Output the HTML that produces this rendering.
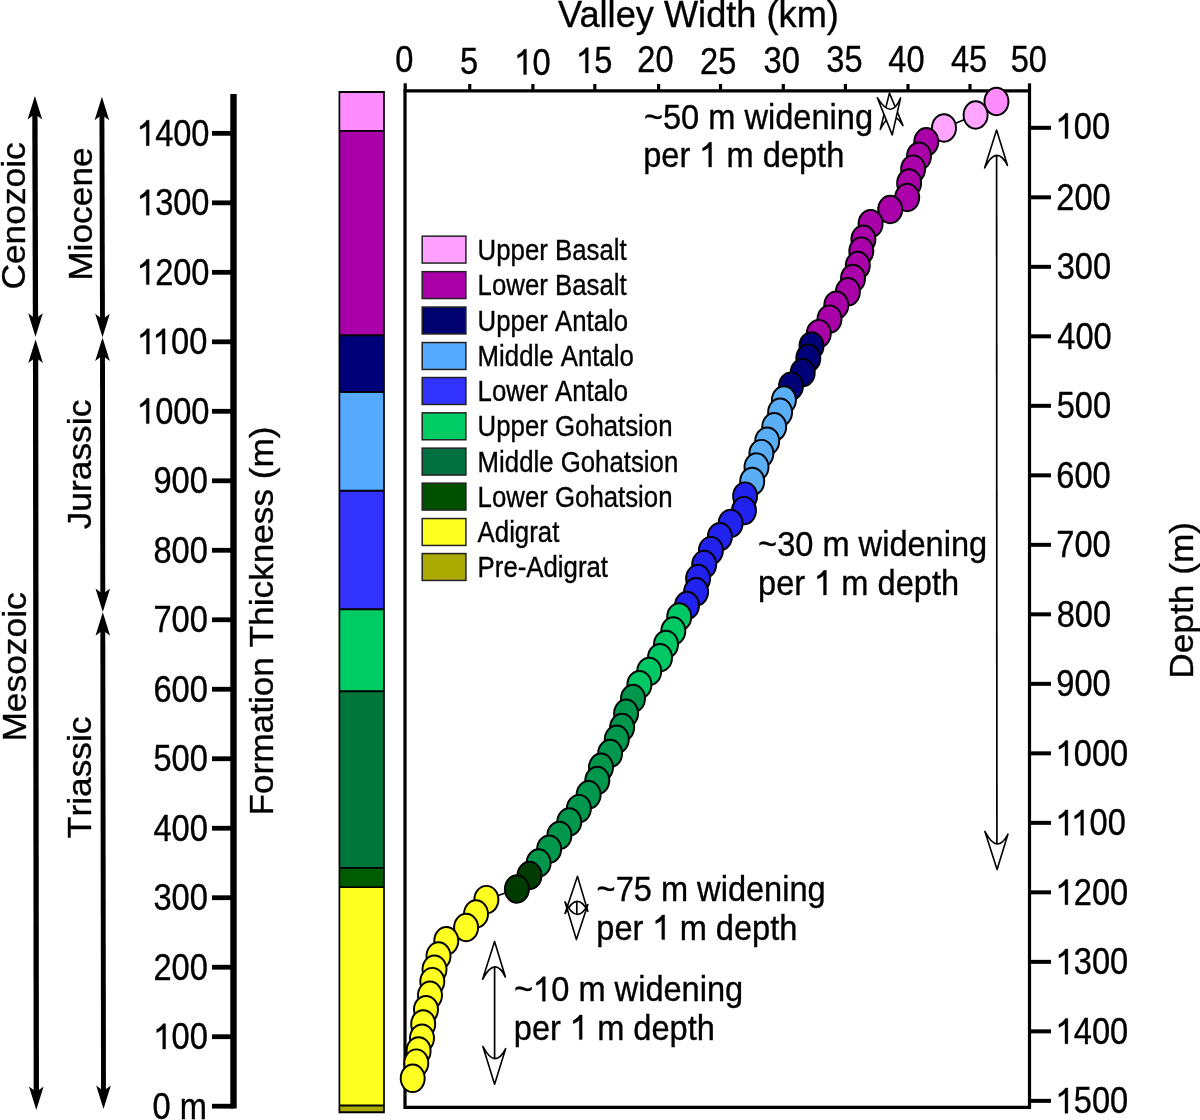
<!DOCTYPE html><html><head><meta charset="utf-8"><style>html,body{margin:0;padding:0;background:#fff;}svg{display:block;will-change:transform;font-family:"Liberation Sans",sans-serif;} text,path.o{stroke:#000;stroke-width:0.35px;vector-effect:non-scaling-stroke;}</style></head><body>
<svg width="1200" height="1120" viewBox="0 0 1200 1120" font-family='"Liberation Sans", sans-serif' style="font-kerning:none">
<rect width="1200" height="1120" fill="#fff"/>
<g fill="#000">
<g transform="translate(557.94,26.70)"><text x="0" y="0" dx="0.000 -2.687 0.000 0.000 0.000 0.000 0.000 0.000 0.000 0.000 0.000 0.000 0.000 0.000 0.000 0.000 0.000" font-size="36.2">Valley Width (km)</text></g>
</g>
<line x1="233.5" y1="94" x2="233.5" y2="1108.60" stroke="#000" stroke-width="6.4"/>
<line x1="212" y1="1106.20" x2="233.5" y2="1106.20" stroke="#000" stroke-width="4.8"/>
<line x1="212" y1="1036.71" x2="233.5" y2="1036.71" stroke="#000" stroke-width="4.8"/>
<line x1="212" y1="967.22" x2="233.5" y2="967.22" stroke="#000" stroke-width="4.8"/>
<line x1="212" y1="897.73" x2="233.5" y2="897.73" stroke="#000" stroke-width="4.8"/>
<line x1="212" y1="828.24" x2="233.5" y2="828.24" stroke="#000" stroke-width="4.8"/>
<line x1="212" y1="758.75" x2="233.5" y2="758.75" stroke="#000" stroke-width="4.8"/>
<line x1="212" y1="689.26" x2="233.5" y2="689.26" stroke="#000" stroke-width="4.8"/>
<line x1="212" y1="619.77" x2="233.5" y2="619.77" stroke="#000" stroke-width="4.8"/>
<line x1="212" y1="550.28" x2="233.5" y2="550.28" stroke="#000" stroke-width="4.8"/>
<line x1="212" y1="480.79" x2="233.5" y2="480.79" stroke="#000" stroke-width="4.8"/>
<line x1="212" y1="411.30" x2="233.5" y2="411.30" stroke="#000" stroke-width="4.8"/>
<line x1="212" y1="341.81" x2="233.5" y2="341.81" stroke="#000" stroke-width="4.8"/>
<line x1="212" y1="272.32" x2="233.5" y2="272.32" stroke="#000" stroke-width="4.8"/>
<line x1="212" y1="202.83" x2="233.5" y2="202.83" stroke="#000" stroke-width="4.8"/>
<line x1="212" y1="133.34" x2="233.5" y2="133.34" stroke="#000" stroke-width="4.8"/>
<g fill="#000">
<g transform="translate(153.46,1049.01) scale(1,1.13)"><text x="0" y="0" font-size="32.6"> 00</text><path class="o" transform="translate(0.000,0) scale(0.01592,-0.01592)" d="M763,0H583V1125C535,1080 470,1035 400,995C330,955 265,930 200,912V1080C300,1122 385,1178 455,1242C525,1306 573,1362 606,1409H763Z"/></g>
<g transform="translate(153.46,979.52) scale(1,1.13)"><text x="0" y="0" font-size="32.6">200</text></g>
<g transform="translate(153.46,910.03) scale(1,1.13)"><text x="0" y="0" font-size="32.6">300</text></g>
<g transform="translate(153.46,840.54) scale(1,1.13)"><text x="0" y="0" font-size="32.6">400</text></g>
<g transform="translate(153.46,771.05) scale(1,1.13)"><text x="0" y="0" font-size="32.6">500</text></g>
<g transform="translate(153.46,701.56) scale(1,1.13)"><text x="0" y="0" font-size="32.6">600</text></g>
<g transform="translate(153.46,632.07) scale(1,1.13)"><text x="0" y="0" font-size="32.6">700</text></g>
<g transform="translate(153.46,562.58) scale(1,1.13)"><text x="0" y="0" font-size="32.6">800</text></g>
<g transform="translate(153.46,493.09) scale(1,1.13)"><text x="0" y="0" font-size="32.6">900</text></g>
<g transform="translate(137.01,423.60) scale(1,1.13)"><text x="0" y="0" font-size="32.6"> 000</text><path class="o" transform="translate(0.000,0) scale(0.01592,-0.01592)" d="M763,0H583V1125C535,1080 470,1035 400,995C330,955 265,930 200,912V1080C300,1122 385,1178 455,1242C525,1306 573,1362 606,1409H763Z"/></g>
<g transform="translate(137.19,354.11) scale(1,1.13)"><text x="0" y="0" dx="0.000 -2.420 0.000 0.000" font-size="32.6">  00</text><path class="o" transform="translate(0.000,0) scale(0.01592,-0.01592)" d="M763,0H583V1125C535,1080 470,1035 400,995C330,955 265,930 200,912V1080C300,1122 385,1178 455,1242C525,1306 573,1362 606,1409H763Z"/><path class="o" transform="translate(15.711,0) scale(0.01592,-0.01592)" d="M763,0H583V1125C535,1080 470,1035 400,995C330,955 265,930 200,912V1080C300,1122 385,1178 455,1242C525,1306 573,1362 606,1409H763Z"/></g>
<g transform="translate(137.01,284.62) scale(1,1.13)"><text x="0" y="0" font-size="32.6"> 200</text><path class="o" transform="translate(0.000,0) scale(0.01592,-0.01592)" d="M763,0H583V1125C535,1080 470,1035 400,995C330,955 265,930 200,912V1080C300,1122 385,1178 455,1242C525,1306 573,1362 606,1409H763Z"/></g>
<g transform="translate(137.01,215.13) scale(1,1.13)"><text x="0" y="0" font-size="32.6"> 300</text><path class="o" transform="translate(0.000,0) scale(0.01592,-0.01592)" d="M763,0H583V1125C535,1080 470,1035 400,995C330,955 265,930 200,912V1080C300,1122 385,1178 455,1242C525,1306 573,1362 606,1409H763Z"/></g>
<g transform="translate(137.01,145.64) scale(1,1.13)"><text x="0" y="0" font-size="32.6"> 400</text><path class="o" transform="translate(0.000,0) scale(0.01592,-0.01592)" d="M763,0H583V1125C535,1080 470,1035 400,995C330,955 265,930 200,912V1080C300,1122 385,1178 455,1242C525,1306 573,1362 606,1409H763Z"/></g>
<g transform="translate(152.50,1118.50) scale(1,1.13)"><text x="0" y="0" font-size="32.6">0 m</text></g>
<g transform="translate(1055.72,138.50) scale(1,1.13)"><text x="0" y="0" font-size="32.6"> 00</text><path class="o" transform="translate(0.000,0) scale(0.01592,-0.01592)" d="M763,0H583V1125C535,1080 470,1035 400,995C330,955 265,930 200,912V1080C300,1122 385,1178 455,1242C525,1306 573,1362 606,1409H763Z"/></g>
<g transform="translate(1056.37,209.72) scale(1,1.13)"><text x="0" y="0" font-size="32.6">200</text></g>
<g transform="translate(1056.70,279.22) scale(1,1.13)"><text x="0" y="0" font-size="32.6">300</text></g>
<g transform="translate(1057.35,348.72) scale(1,1.13)"><text x="0" y="0" font-size="32.6">400</text></g>
<g transform="translate(1056.70,418.23) scale(1,1.13)"><text x="0" y="0" font-size="32.6">500</text></g>
<g transform="translate(1056.37,487.73) scale(1,1.13)"><text x="0" y="0" font-size="32.6">600</text></g>
<g transform="translate(1056.37,557.23) scale(1,1.13)"><text x="0" y="0" font-size="32.6">700</text></g>
<g transform="translate(1056.70,626.73) scale(1,1.13)"><text x="0" y="0" font-size="32.6">800</text></g>
<g transform="translate(1056.37,696.24) scale(1,1.13)"><text x="0" y="0" font-size="32.6">900</text></g>
<g transform="translate(1055.72,765.74) scale(1,1.13)"><text x="0" y="0" font-size="32.6"> 000</text><path class="o" transform="translate(0.000,0) scale(0.01592,-0.01592)" d="M763,0H583V1125C535,1080 470,1035 400,995C330,955 265,930 200,912V1080C300,1122 385,1178 455,1242C525,1306 573,1362 606,1409H763Z"/></g>
<g transform="translate(1055.72,835.24) scale(1,1.13)"><text x="0" y="0" dx="0.000 -2.420 0.000 0.000" font-size="32.6">  00</text><path class="o" transform="translate(0.000,0) scale(0.01592,-0.01592)" d="M763,0H583V1125C535,1080 470,1035 400,995C330,955 265,930 200,912V1080C300,1122 385,1178 455,1242C525,1306 573,1362 606,1409H763Z"/><path class="o" transform="translate(15.711,0) scale(0.01592,-0.01592)" d="M763,0H583V1125C535,1080 470,1035 400,995C330,955 265,930 200,912V1080C300,1122 385,1178 455,1242C525,1306 573,1362 606,1409H763Z"/></g>
<g transform="translate(1055.72,904.75) scale(1,1.13)"><text x="0" y="0" font-size="32.6"> 200</text><path class="o" transform="translate(0.000,0) scale(0.01592,-0.01592)" d="M763,0H583V1125C535,1080 470,1035 400,995C330,955 265,930 200,912V1080C300,1122 385,1178 455,1242C525,1306 573,1362 606,1409H763Z"/></g>
<g transform="translate(1055.72,974.25) scale(1,1.13)"><text x="0" y="0" font-size="32.6"> 300</text><path class="o" transform="translate(0.000,0) scale(0.01592,-0.01592)" d="M763,0H583V1125C535,1080 470,1035 400,995C330,955 265,930 200,912V1080C300,1122 385,1178 455,1242C525,1306 573,1362 606,1409H763Z"/></g>
<g transform="translate(1055.72,1043.75) scale(1,1.13)"><text x="0" y="0" font-size="32.6"> 400</text><path class="o" transform="translate(0.000,0) scale(0.01592,-0.01592)" d="M763,0H583V1125C535,1080 470,1035 400,995C330,955 265,930 200,912V1080C300,1122 385,1178 455,1242C525,1306 573,1362 606,1409H763Z"/></g>
<g transform="translate(1055.72,1113.26) scale(1,1.13)"><text x="0" y="0" font-size="32.6"> 500</text><path class="o" transform="translate(0.000,0) scale(0.01592,-0.01592)" d="M763,0H583V1125C535,1080 470,1035 400,995C330,955 265,930 200,912V1080C300,1122 385,1178 455,1242C525,1306 573,1362 606,1409H763Z"/></g>
<g transform="translate(395.20,72.30) scale(1,1.13)"><text x="0" y="0" font-size="32.6">0</text></g>
<g transform="translate(460.10,74.20) scale(1,1.13)"><text x="0" y="0" font-size="32.6">5</text></g>
<g transform="translate(514.32,74.50) scale(1,1.13)"><text x="0" y="0" font-size="32.6"> 0</text><path class="o" transform="translate(0.000,0) scale(0.01592,-0.01592)" d="M763,0H583V1125C535,1080 470,1035 400,995C330,955 265,930 200,912V1080C300,1122 385,1178 455,1242C525,1306 573,1362 606,1409H763Z"/></g>
<g transform="translate(576.12,73.00) scale(1,1.13)"><text x="0" y="0" font-size="32.6"> 5</text><path class="o" transform="translate(0.000,0) scale(0.01592,-0.01592)" d="M763,0H583V1125C535,1080 470,1035 400,995C330,955 265,930 200,912V1080C300,1122 385,1178 455,1242C525,1306 573,1362 606,1409H763Z"/></g>
<g transform="translate(637.37,72.00) scale(1,1.13)"><text x="0" y="0" font-size="32.6">20</text></g>
<g transform="translate(700.07,73.60) scale(1,1.13)"><text x="0" y="0" font-size="32.6">25</text></g>
<g transform="translate(763.60,73.10) scale(1,1.13)"><text x="0" y="0" font-size="32.6">30</text></g>
<g transform="translate(826.30,72.10) scale(1,1.13)"><text x="0" y="0" font-size="32.6">35</text></g>
<g transform="translate(888.35,72.00) scale(1,1.13)"><text x="0" y="0" font-size="32.6">40</text></g>
<g transform="translate(950.95,72.00) scale(1,1.13)"><text x="0" y="0" font-size="32.6">45</text></g>
<g transform="translate(1010.70,72.10) scale(1,1.13)"><text x="0" y="0" font-size="32.6">50</text></g>
<text transform="translate(272.80,815.52) scale(1,1.035) rotate(-90)" font-size="34.0">Formation Thickness (m)</text>
<text transform="translate(1192.50,678.72) scale(1,1.05) rotate(-90)" font-size="33.6">Depth (m)</text>
<text transform="translate(25.30,289.57) scale(1,1.04) rotate(-90)" font-size="34.0">Cenozoic</text>
<text transform="translate(26.20,741.58) scale(1,1.04) rotate(-90)" font-size="34.0">Mesozoic</text>
<text transform="translate(91.80,280.83) scale(1,1.04) rotate(-90)" font-size="34.0">Miocene</text>
<text transform="translate(90.80,529.31) scale(1,1.04) rotate(-90)" font-size="34.0">Jurassic</text>
<text transform="translate(90.50,838.21) scale(1,1.04) rotate(-90)" font-size="34.0">Triassic</text>
<g transform="translate(643.90,128.50) scale(1,1.1)"><text x="0" y="0" font-size="32.6">~50 m widening</text></g>
<g transform="translate(643.24,167.00) scale(1,1.1)"><text x="0" y="0" font-size="32.6">per   m depth</text><path class="o" transform="translate(56.175,0) scale(0.01592,-0.01592)" d="M763,0H583V1125C535,1080 470,1035 400,995C330,955 265,930 200,912V1080C300,1122 385,1178 455,1242C525,1306 573,1362 606,1409H763Z"/></g>
<g transform="translate(758.10,556.40) scale(1,1.1)"><text x="0" y="0" font-size="32.6">~30 m widening</text></g>
<g transform="translate(758.04,595.00) scale(1,1.1)"><text x="0" y="0" font-size="32.6">per   m depth</text><path class="o" transform="translate(56.175,0) scale(0.01592,-0.01592)" d="M763,0H583V1125C535,1080 470,1035 400,995C330,955 265,930 200,912V1080C300,1122 385,1178 455,1242C525,1306 573,1362 606,1409H763Z"/></g>
<g transform="translate(596.60,901.30) scale(1,1.1)"><text x="0" y="0" font-size="32.6">~75 m widening</text></g>
<g transform="translate(596.34,939.60) scale(1,1.1)"><text x="0" y="0" font-size="32.6">per   m depth</text><path class="o" transform="translate(56.175,0) scale(0.01592,-0.01592)" d="M763,0H583V1125C535,1080 470,1035 400,995C330,955 265,930 200,912V1080C300,1122 385,1178 455,1242C525,1306 573,1362 606,1409H763Z"/></g>
<g transform="translate(514.10,1001.30) scale(1,1.1)"><text x="0" y="0" font-size="32.6">~ 0 m widening</text><path class="o" transform="translate(19.038,0) scale(0.01592,-0.01592)" d="M763,0H583V1125C535,1080 470,1035 400,995C330,955 265,930 200,912V1080C300,1122 385,1178 455,1242C525,1306 573,1362 606,1409H763Z"/></g>
<g transform="translate(513.84,1039.60) scale(1,1.1)"><text x="0" y="0" font-size="32.6">per   m depth</text><path class="o" transform="translate(56.175,0) scale(0.01592,-0.01592)" d="M763,0H583V1125C535,1080 470,1035 400,995C330,955 265,930 200,912V1080C300,1122 385,1178 455,1242C525,1306 573,1362 606,1409H763Z"/></g>
</g>
<line x1="34.9" y1="106.0" x2="35.5" y2="326.7" stroke="#000" stroke-width="5.3"/>
<path d="M34.90,96.00 L27.60,119.50 L34.90,114.00 L42.20,119.50 Z" fill="#000"/>
<path d="M35.50,336.70 L28.20,313.20 L35.50,318.70 L42.80,313.20 Z" fill="#000"/>
<line x1="35.6" y1="349.5" x2="36.3" y2="1100.0" stroke="#000" stroke-width="5.3"/>
<path d="M35.60,339.50 L28.30,363.00 L35.60,357.50 L42.90,363.00 Z" fill="#000"/>
<path d="M36.30,1110.00 L29.00,1086.50 L36.30,1092.00 L43.60,1086.50 Z" fill="#000"/>
<line x1="101.9" y1="106.7" x2="102.5" y2="327.2" stroke="#000" stroke-width="4.9"/>
<path d="M101.90,96.70 L94.60,120.20 L101.90,114.70 L109.20,120.20 Z" fill="#000"/>
<path d="M102.50,337.20 L95.20,313.70 L102.50,319.20 L109.80,313.70 Z" fill="#000"/>
<line x1="102.5" y1="347.6" x2="102.8" y2="602.1" stroke="#000" stroke-width="4.9"/>
<path d="M102.50,337.60 L95.20,361.10 L102.50,355.60 L109.80,361.10 Z" fill="#000"/>
<path d="M102.80,612.10 L95.50,588.60 L102.80,594.10 L110.10,588.60 Z" fill="#000"/>
<line x1="102.8" y1="622.3" x2="103.5" y2="1099.0" stroke="#000" stroke-width="4.9"/>
<path d="M102.80,612.30 L95.50,635.80 L102.80,630.30 L110.10,635.80 Z" fill="#000"/>
<path d="M103.50,1109.00 L96.20,1085.50 L103.50,1091.00 L110.80,1085.50 Z" fill="#000"/>
<rect x="339.4" y="92.00" width="44.60" height="38.90" fill="#FF8CFF"/>
<rect x="339.4" y="130.90" width="44.60" height="204.30" fill="#AA00AA"/>
<rect x="339.4" y="335.20" width="44.60" height="56.90" fill="#000078"/>
<rect x="339.4" y="392.10" width="44.60" height="98.70" fill="#55AAFF"/>
<rect x="339.4" y="490.80" width="44.60" height="118.50" fill="#3333FF"/>
<rect x="339.4" y="609.30" width="44.60" height="81.90" fill="#00CC66"/>
<rect x="339.4" y="691.20" width="44.60" height="176.70" fill="#00763C"/>
<rect x="339.4" y="867.90" width="44.60" height="19.20" fill="#005C00"/>
<rect x="339.4" y="887.10" width="44.60" height="218.40" fill="#FFFF22"/>
<rect x="339.4" y="1105.50" width="44.60" height="6.70" fill="#AAAA00"/>
<line x1="339.4" y1="92.00" x2="384.0" y2="92.00" stroke="#000" stroke-width="1.9"/>
<line x1="339.4" y1="130.90" x2="384.0" y2="130.90" stroke="#000" stroke-width="1.9"/>
<line x1="339.4" y1="335.20" x2="384.0" y2="335.20" stroke="#000" stroke-width="1.9"/>
<line x1="339.4" y1="392.10" x2="384.0" y2="392.10" stroke="#000" stroke-width="1.9"/>
<line x1="339.4" y1="490.80" x2="384.0" y2="490.80" stroke="#000" stroke-width="1.9"/>
<line x1="339.4" y1="609.30" x2="384.0" y2="609.30" stroke="#000" stroke-width="1.9"/>
<line x1="339.4" y1="691.20" x2="384.0" y2="691.20" stroke="#000" stroke-width="1.9"/>
<line x1="339.4" y1="867.90" x2="384.0" y2="867.90" stroke="#000" stroke-width="1.9"/>
<line x1="339.4" y1="887.10" x2="384.0" y2="887.10" stroke="#000" stroke-width="1.9"/>
<line x1="339.4" y1="1105.50" x2="384.0" y2="1105.50" stroke="#000" stroke-width="1.9"/>
<line x1="339.4" y1="1112.20" x2="384.0" y2="1112.20" stroke="#000" stroke-width="1.9"/>
<line x1="339.4" y1="91.05" x2="339.4" y2="1113.15" stroke="#000" stroke-width="1.7"/>
<line x1="384.0" y1="91.05" x2="384.0" y2="1113.15" stroke="#000" stroke-width="1.7"/>
<rect x="422.2" y="236.15" width="43.7" height="26.9" fill="#FFA2FF" stroke="#222" stroke-width="1.5"/>
<rect x="422.2" y="271.65" width="43.7" height="26.9" fill="#AA00AA" stroke="#222" stroke-width="1.5"/>
<rect x="422.2" y="307.05" width="43.7" height="26.9" fill="#000070" stroke="#222" stroke-width="1.5"/>
<rect x="422.2" y="342.55" width="43.7" height="26.9" fill="#55AAFF" stroke="#222" stroke-width="1.5"/>
<rect x="422.2" y="377.55" width="43.7" height="26.9" fill="#3333FF" stroke="#222" stroke-width="1.5"/>
<rect x="422.2" y="412.85" width="43.7" height="26.9" fill="#00CC66" stroke="#222" stroke-width="1.5"/>
<rect x="422.2" y="448.15" width="43.7" height="26.9" fill="#007040" stroke="#222" stroke-width="1.5"/>
<rect x="422.2" y="483.15" width="43.7" height="26.9" fill="#005000" stroke="#222" stroke-width="1.5"/>
<rect x="422.2" y="518.55" width="43.7" height="26.9" fill="#FFFF22" stroke="#222" stroke-width="1.5"/>
<rect x="422.2" y="553.55" width="43.7" height="26.9" fill="#AAAA00" stroke="#222" stroke-width="1.5"/>
<g fill="#000">
<text transform="translate(477.6,259.60) scale(1,1.12)" font-size="25.8">Upper Basalt</text>
<text transform="translate(477.6,295.10) scale(1,1.12)" font-size="25.8">Lower Basalt</text>
<text transform="translate(477.6,330.50) scale(1,1.12)" font-size="25.8">Upper Antalo</text>
<text transform="translate(477.6,366.00) scale(1,1.12)" font-size="25.8">Middle Antalo</text>
<text transform="translate(477.6,401.00) scale(1,1.12)" font-size="25.8">Lower Antalo</text>
<text transform="translate(477.6,436.30) scale(1,1.12)" font-size="25.8">Upper Gohatsion</text>
<text transform="translate(477.6,471.60) scale(1,1.12)" font-size="25.8">Middle Gohatsion</text>
<text transform="translate(477.6,506.60) scale(1,1.12)" font-size="25.8">Lower Gohatsion</text>
<text transform="translate(477.6,542.00) scale(1,1.12)" font-size="25.8">Adigrat</text>
<text transform="translate(477.6,577.00) scale(1,1.12)" font-size="25.8">Pre-Adigrat</text>
</g>
<path d="M405.0,90.9 H1029.5 V1107.4 H405.0 Z" fill="none" stroke="#000" stroke-width="3.2"/>
<line x1="405.2" y1="83.3" x2="405.2" y2="90.9" stroke="#000" stroke-width="3.2"/>
<line x1="469.75" y1="84.0" x2="469.75" y2="90.9" stroke="#000" stroke-width="3.2"/>
<line x1="532.9" y1="84.0" x2="532.9" y2="90.9" stroke="#000" stroke-width="3.2"/>
<line x1="594.8" y1="84.0" x2="594.8" y2="90.9" stroke="#000" stroke-width="3.2"/>
<line x1="658.6" y1="84.0" x2="658.6" y2="90.9" stroke="#000" stroke-width="3.2"/>
<line x1="720.5" y1="84.0" x2="720.5" y2="90.9" stroke="#000" stroke-width="3.2"/>
<line x1="783.3" y1="84.0" x2="783.3" y2="90.9" stroke="#000" stroke-width="3.2"/>
<line x1="845.4" y1="84.0" x2="845.4" y2="90.9" stroke="#000" stroke-width="3.2"/>
<line x1="908.0" y1="84.0" x2="908.0" y2="90.9" stroke="#000" stroke-width="3.2"/>
<line x1="970.0" y1="84.0" x2="970.0" y2="90.9" stroke="#000" stroke-width="3.2"/>
<line x1="1029.5" y1="83.3" x2="1029.5" y2="90.9" stroke="#000" stroke-width="3.2"/>
<line x1="1029.5" y1="127.81" x2="1051" y2="127.81" stroke="#000" stroke-width="4.0"/>
<line x1="1029.5" y1="197.32" x2="1051" y2="197.32" stroke="#000" stroke-width="4.0"/>
<line x1="1029.5" y1="266.82" x2="1051" y2="266.82" stroke="#000" stroke-width="4.0"/>
<line x1="1029.5" y1="336.32" x2="1051" y2="336.32" stroke="#000" stroke-width="4.0"/>
<line x1="1029.5" y1="405.83" x2="1051" y2="405.83" stroke="#000" stroke-width="4.0"/>
<line x1="1029.5" y1="475.33" x2="1051" y2="475.33" stroke="#000" stroke-width="4.0"/>
<line x1="1029.5" y1="544.83" x2="1051" y2="544.83" stroke="#000" stroke-width="4.0"/>
<line x1="1029.5" y1="614.33" x2="1051" y2="614.33" stroke="#000" stroke-width="4.0"/>
<line x1="1029.5" y1="683.84" x2="1051" y2="683.84" stroke="#000" stroke-width="4.0"/>
<line x1="1029.5" y1="753.34" x2="1051" y2="753.34" stroke="#000" stroke-width="4.0"/>
<line x1="1029.5" y1="822.84" x2="1051" y2="822.84" stroke="#000" stroke-width="4.0"/>
<line x1="1029.5" y1="892.35" x2="1051" y2="892.35" stroke="#000" stroke-width="4.0"/>
<line x1="1029.5" y1="961.85" x2="1051" y2="961.85" stroke="#000" stroke-width="4.0"/>
<line x1="1029.5" y1="1031.35" x2="1051" y2="1031.35" stroke="#000" stroke-width="4.0"/>
<line x1="1029.5" y1="1100.86" x2="1051" y2="1100.86" stroke="#000" stroke-width="4.0"/>
<polyline fill="none" stroke="#000" stroke-width="1.6" points="996.45,101.5 975.6,115.0 944.0,127.9 926.3,141.8 919.0,156.2 913.1,169.1 909.1,183.0 907.2,197.5 890.2,209.5 870.6,223.7 863.4,239.3 861.3,251.1 857.8,265.5 853.0,278.4 847.9,291.8 836.3,305.2 829.5,319.1 818.8,333.6 811.5,345.9 808.3,358.2 802.7,372.7 791.0,386.1 783.9,400.0 780.1,412.3 774.2,426.8 767.2,441.2 761.4,453.6 756.5,467.0 752.2,481.4 745.1,496.1 744.0,510.6 730.6,523.4 719.9,536.7 710.9,550.6 704.2,564.5 698.1,578.5 696.1,591.8 687.0,605.5 679.2,616.9 673.3,631.0 666.0,644.4 660.0,657.7 649.2,671.4 639.4,684.7 633.0,698.5 626.1,713.3 622.1,727.5 616.8,739.3 610.1,753.5 601.0,767.3 597.3,780.5 588.6,794.8 578.9,808.6 569.2,822.0 559.4,835.4 549.1,849.2 538.6,863.0 529.5,875.5 516.9,889.0 486.4,899.6 476.0,914.0 466.1,927.5 446.3,940.8 438.5,956.0 434.5,969.3 432.3,981.6 430.0,995.3 426.0,1009.7 423.2,1023.9 422.0,1038.2 418.6,1050.9 416.3,1063.1 412.7,1078.3"/>
<ellipse cx="996.45" cy="101.5" rx="12.0" ry="13.75" fill="#FF8CFF" stroke="#000" stroke-width="1.95"/>
<ellipse cx="975.6" cy="115.0" rx="12.0" ry="13.75" fill="#FFA4FF" stroke="#000" stroke-width="1.95"/>
<ellipse cx="944.0" cy="127.9" rx="12.0" ry="13.75" fill="#FFA4FF" stroke="#000" stroke-width="1.95"/>
<ellipse cx="926.3" cy="141.8" rx="12.0" ry="13.75" fill="#AA00AA" stroke="#000" stroke-width="1.95"/>
<ellipse cx="919.0" cy="156.2" rx="12.0" ry="13.75" fill="#AA00AA" stroke="#000" stroke-width="1.95"/>
<ellipse cx="913.1" cy="169.1" rx="12.0" ry="13.75" fill="#AA00AA" stroke="#000" stroke-width="1.95"/>
<ellipse cx="909.1" cy="183.0" rx="12.0" ry="13.75" fill="#AA00AA" stroke="#000" stroke-width="1.95"/>
<ellipse cx="907.2" cy="197.5" rx="12.0" ry="13.75" fill="#AA00AA" stroke="#000" stroke-width="1.95"/>
<ellipse cx="890.2" cy="209.5" rx="12.0" ry="13.75" fill="#AA00AA" stroke="#000" stroke-width="1.95"/>
<ellipse cx="870.6" cy="223.7" rx="12.0" ry="13.75" fill="#AA00AA" stroke="#000" stroke-width="1.95"/>
<ellipse cx="863.4" cy="239.3" rx="12.0" ry="13.75" fill="#AA00AA" stroke="#000" stroke-width="1.95"/>
<ellipse cx="861.3" cy="251.1" rx="12.0" ry="13.75" fill="#AA00AA" stroke="#000" stroke-width="1.95"/>
<ellipse cx="857.8" cy="265.5" rx="12.0" ry="13.75" fill="#AA00AA" stroke="#000" stroke-width="1.95"/>
<ellipse cx="853.0" cy="278.4" rx="12.0" ry="13.75" fill="#AA00AA" stroke="#000" stroke-width="1.95"/>
<ellipse cx="847.9" cy="291.8" rx="12.0" ry="13.75" fill="#AA00AA" stroke="#000" stroke-width="1.95"/>
<ellipse cx="836.3" cy="305.2" rx="12.0" ry="13.75" fill="#AA00AA" stroke="#000" stroke-width="1.95"/>
<ellipse cx="829.5" cy="319.1" rx="12.0" ry="13.75" fill="#AA00AA" stroke="#000" stroke-width="1.95"/>
<ellipse cx="818.8" cy="333.6" rx="12.0" ry="13.75" fill="#AA00AA" stroke="#000" stroke-width="1.95"/>
<ellipse cx="811.5" cy="345.9" rx="12.0" ry="13.75" fill="#000078" stroke="#000" stroke-width="1.95"/>
<ellipse cx="808.3" cy="358.2" rx="12.0" ry="13.75" fill="#000078" stroke="#000" stroke-width="1.95"/>
<ellipse cx="802.7" cy="372.7" rx="12.0" ry="13.75" fill="#000078" stroke="#000" stroke-width="1.95"/>
<ellipse cx="791.0" cy="386.1" rx="12.0" ry="13.75" fill="#000078" stroke="#000" stroke-width="1.95"/>
<ellipse cx="783.9" cy="400.0" rx="12.0" ry="13.75" fill="#5AAEF5" stroke="#000" stroke-width="1.95"/>
<ellipse cx="780.1" cy="412.3" rx="12.0" ry="13.75" fill="#5AAEF5" stroke="#000" stroke-width="1.95"/>
<ellipse cx="774.2" cy="426.8" rx="12.0" ry="13.75" fill="#5AAEF5" stroke="#000" stroke-width="1.95"/>
<ellipse cx="767.2" cy="441.2" rx="12.0" ry="13.75" fill="#5AAEF5" stroke="#000" stroke-width="1.95"/>
<ellipse cx="761.4" cy="453.6" rx="12.0" ry="13.75" fill="#5AAEF5" stroke="#000" stroke-width="1.95"/>
<ellipse cx="756.5" cy="467.0" rx="12.0" ry="13.75" fill="#5AAEF5" stroke="#000" stroke-width="1.95"/>
<ellipse cx="752.2" cy="481.4" rx="12.0" ry="13.75" fill="#5AAEF5" stroke="#000" stroke-width="1.95"/>
<ellipse cx="745.1" cy="496.1" rx="12.0" ry="13.75" fill="#2222EE" stroke="#000" stroke-width="1.95"/>
<ellipse cx="744.0" cy="510.6" rx="12.0" ry="13.75" fill="#2222EE" stroke="#000" stroke-width="1.95"/>
<ellipse cx="730.6" cy="523.4" rx="12.0" ry="13.75" fill="#2222EE" stroke="#000" stroke-width="1.95"/>
<ellipse cx="719.9" cy="536.7" rx="12.0" ry="13.75" fill="#2222EE" stroke="#000" stroke-width="1.95"/>
<ellipse cx="710.9" cy="550.6" rx="12.0" ry="13.75" fill="#2222EE" stroke="#000" stroke-width="1.95"/>
<ellipse cx="704.2" cy="564.5" rx="12.0" ry="13.75" fill="#2222EE" stroke="#000" stroke-width="1.95"/>
<ellipse cx="698.1" cy="578.5" rx="12.0" ry="13.75" fill="#2222EE" stroke="#000" stroke-width="1.95"/>
<ellipse cx="696.1" cy="591.8" rx="12.0" ry="13.75" fill="#2222EE" stroke="#000" stroke-width="1.95"/>
<ellipse cx="687.0" cy="605.5" rx="12.0" ry="13.75" fill="#2222EE" stroke="#000" stroke-width="1.95"/>
<ellipse cx="679.2" cy="616.9" rx="12.0" ry="13.75" fill="#00C864" stroke="#000" stroke-width="1.95"/>
<ellipse cx="673.3" cy="631.0" rx="12.0" ry="13.75" fill="#00C864" stroke="#000" stroke-width="1.95"/>
<ellipse cx="666.0" cy="644.4" rx="12.0" ry="13.75" fill="#00C864" stroke="#000" stroke-width="1.95"/>
<ellipse cx="660.0" cy="657.7" rx="12.0" ry="13.75" fill="#00C864" stroke="#000" stroke-width="1.95"/>
<ellipse cx="649.2" cy="671.4" rx="12.0" ry="13.75" fill="#00C864" stroke="#000" stroke-width="1.95"/>
<ellipse cx="639.4" cy="684.7" rx="12.0" ry="13.75" fill="#00C864" stroke="#000" stroke-width="1.95"/>
<ellipse cx="633.0" cy="698.5" rx="12.0" ry="13.75" fill="#00964B" stroke="#000" stroke-width="1.95"/>
<ellipse cx="626.1" cy="713.3" rx="12.0" ry="13.75" fill="#00964B" stroke="#000" stroke-width="1.95"/>
<ellipse cx="622.1" cy="727.5" rx="12.0" ry="13.75" fill="#00964B" stroke="#000" stroke-width="1.95"/>
<ellipse cx="616.8" cy="739.3" rx="12.0" ry="13.75" fill="#00964B" stroke="#000" stroke-width="1.95"/>
<ellipse cx="610.1" cy="753.5" rx="12.0" ry="13.75" fill="#00964B" stroke="#000" stroke-width="1.95"/>
<ellipse cx="601.0" cy="767.3" rx="12.0" ry="13.75" fill="#00964B" stroke="#000" stroke-width="1.95"/>
<ellipse cx="597.3" cy="780.5" rx="12.0" ry="13.75" fill="#00964B" stroke="#000" stroke-width="1.95"/>
<ellipse cx="588.6" cy="794.8" rx="12.0" ry="13.75" fill="#00964B" stroke="#000" stroke-width="1.95"/>
<ellipse cx="578.9" cy="808.6" rx="12.0" ry="13.75" fill="#00964B" stroke="#000" stroke-width="1.95"/>
<ellipse cx="569.2" cy="822.0" rx="12.0" ry="13.75" fill="#00964B" stroke="#000" stroke-width="1.95"/>
<ellipse cx="559.4" cy="835.4" rx="12.0" ry="13.75" fill="#00964B" stroke="#000" stroke-width="1.95"/>
<ellipse cx="549.1" cy="849.2" rx="12.0" ry="13.75" fill="#00964B" stroke="#000" stroke-width="1.95"/>
<ellipse cx="538.6" cy="863.0" rx="12.0" ry="13.75" fill="#00964B" stroke="#000" stroke-width="1.95"/>
<ellipse cx="529.5" cy="875.5" rx="12.0" ry="13.75" fill="#003C00" stroke="#000" stroke-width="1.95"/>
<ellipse cx="516.9" cy="889.0" rx="12.0" ry="13.75" fill="#003C00" stroke="#000" stroke-width="1.95"/>
<ellipse cx="486.4" cy="899.6" rx="12.0" ry="13.75" fill="#FFFF22" stroke="#000" stroke-width="1.95"/>
<ellipse cx="476.0" cy="914.0" rx="12.0" ry="13.75" fill="#FFFF22" stroke="#000" stroke-width="1.95"/>
<ellipse cx="466.1" cy="927.5" rx="12.0" ry="13.75" fill="#FFFF22" stroke="#000" stroke-width="1.95"/>
<ellipse cx="446.3" cy="940.8" rx="12.0" ry="13.75" fill="#FFFF22" stroke="#000" stroke-width="1.95"/>
<ellipse cx="438.5" cy="956.0" rx="12.0" ry="13.75" fill="#FFFF22" stroke="#000" stroke-width="1.95"/>
<ellipse cx="434.5" cy="969.3" rx="12.0" ry="13.75" fill="#FFFF22" stroke="#000" stroke-width="1.95"/>
<ellipse cx="432.3" cy="981.6" rx="12.0" ry="13.75" fill="#FFFF22" stroke="#000" stroke-width="1.95"/>
<ellipse cx="430.0" cy="995.3" rx="12.0" ry="13.75" fill="#FFFF22" stroke="#000" stroke-width="1.95"/>
<ellipse cx="426.0" cy="1009.7" rx="12.0" ry="13.75" fill="#FFFF22" stroke="#000" stroke-width="1.95"/>
<ellipse cx="423.2" cy="1023.9" rx="12.0" ry="13.75" fill="#FFFF22" stroke="#000" stroke-width="1.95"/>
<ellipse cx="422.0" cy="1038.2" rx="12.0" ry="13.75" fill="#FFFF22" stroke="#000" stroke-width="1.95"/>
<ellipse cx="418.6" cy="1050.9" rx="12.0" ry="13.75" fill="#FFFF22" stroke="#000" stroke-width="1.95"/>
<ellipse cx="416.3" cy="1063.1" rx="12.0" ry="13.75" fill="#FFFF22" stroke="#000" stroke-width="1.95"/>
<ellipse cx="412.7" cy="1078.3" rx="12.0" ry="13.75" fill="#FFFF22" stroke="#000" stroke-width="1.95"/>
<line x1="996.6" y1="150" x2="996.9" y2="850" stroke="#000" stroke-width="1.7"/>
<path d="M996.59,130.10 L984.60,167.90 Q996.75,144.15 1007.50,165.40 Z" fill="#fff" stroke="#000" stroke-width="1.6" stroke-linejoin="round"/>
<path d="M997.09,869.60 L984.90,831.40 Q997.15,855.05 1008.00,834.10 Z" fill="#fff" stroke="#000" stroke-width="1.6" stroke-linejoin="round"/>
<line x1="494.6" y1="960" x2="494.6" y2="1065" stroke="#000" stroke-width="1.7"/>
<path d="M494.59,941.50 L482.60,979.30 Q495.20,955.60 505.40,977.10 Z" fill="#fff" stroke="#000" stroke-width="1.6" stroke-linejoin="round"/>
<path d="M494.59,1084.20 L482.90,1046.40 Q494.90,1069.70 505.70,1048.60 Z" fill="#fff" stroke="#000" stroke-width="1.6" stroke-linejoin="round"/>
<line x1="576.8" y1="901.4" x2="576.8" y2="914.3" stroke="#000" stroke-width="1.7"/>
<path d="M577.48,876.20 L565.00,913.60 Q577.15,890.30 587.90,911.40 Z" fill="#fff" stroke="#000" stroke-width="1.6" stroke-linejoin="round"/>
<path d="M576.40,939.60 L565.00,901.80 Q577.15,925.40 587.90,904.60 Z" fill="#fff" stroke="#000" stroke-width="1.6" stroke-linejoin="round"/>
<path d="M889.45,93.10 L880.30,129.50 Q891.35,106.50 903.00,125.50 Z" fill="#fff" stroke="#000" stroke-width="1.6" stroke-linejoin="round"/>
<path d="M892.23,134.90 L877.30,97.70 Q891.45,120.60 900.60,97.90 Z" fill="#fff" stroke="#000" stroke-width="1.6" stroke-linejoin="round"/>
</svg></body></html>
